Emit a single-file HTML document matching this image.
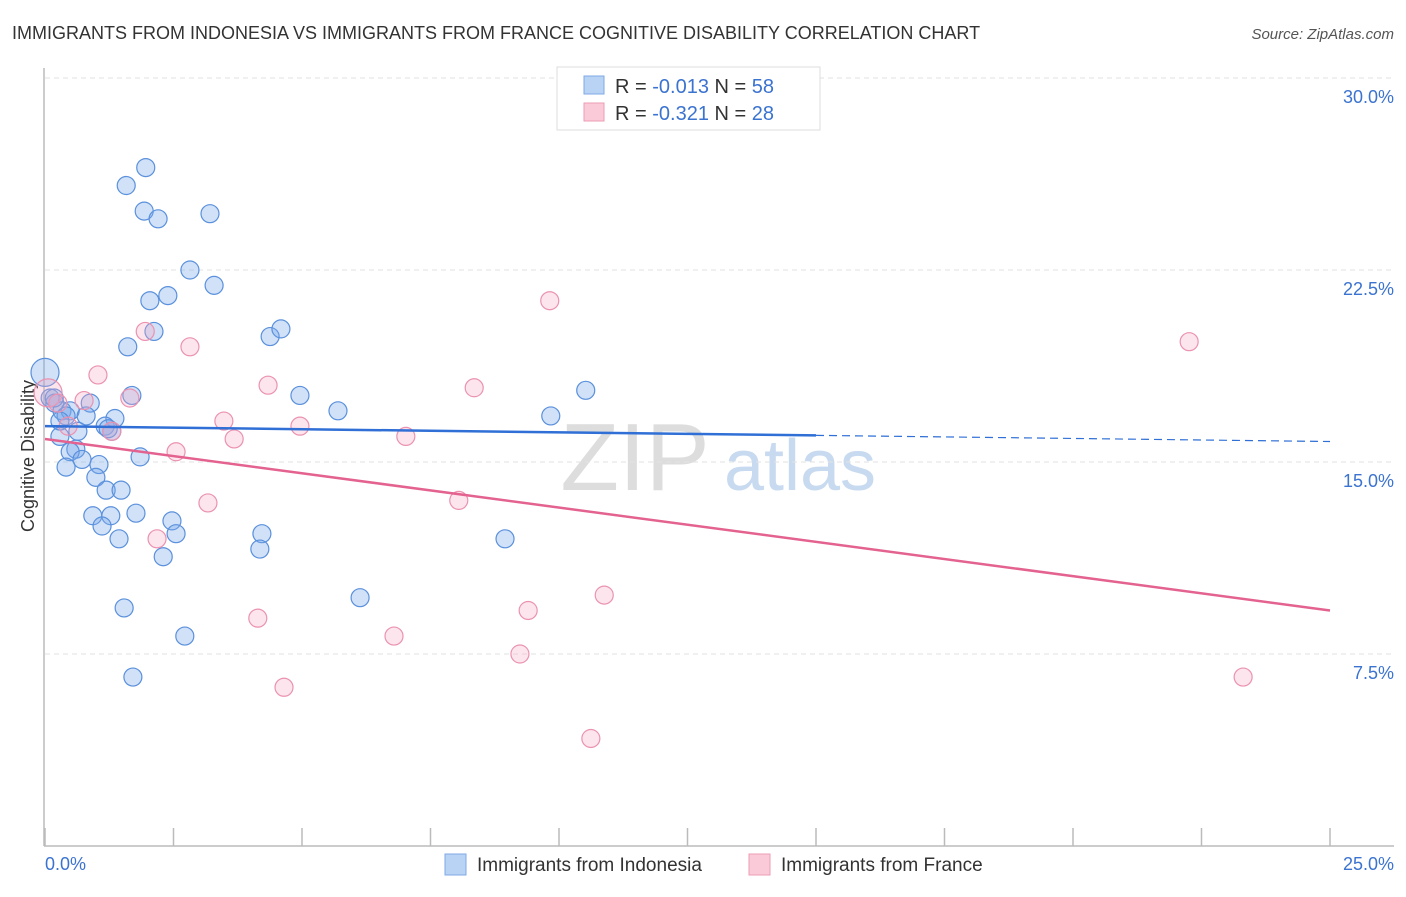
<!DOCTYPE html>
<html><head><meta charset="utf-8">
<style>
body{margin:0;background:#fff;font-family:"Liberation Sans",sans-serif;}
svg text{font-family:"Liberation Sans",sans-serif;}
</style></head>
<body>
<svg id="chart" width="1406" height="892" xmlns="http://www.w3.org/2000/svg">
<text x="12" y="39" font-size="18" fill="#333">IMMIGRANTS FROM INDONESIA VS IMMIGRANTS FROM FRANCE COGNITIVE DISABILITY CORRELATION CHART</text>
<text x="1394" y="39" font-size="15" fill="#555" font-style="italic" text-anchor="end">Source: ZipAtlas.com</text>
<text x="34" y="456" font-size="18" fill="#333" text-anchor="middle" transform="rotate(-90 34 456)">Cognitive Disability</text>
<g>
<text x="635" y="490" font-size="96" fill="#ddd" font-family="Liberation Serif" text-anchor="middle">ZIP</text>
<text x="800" y="490" font-size="72" fill="#c8daf0" text-anchor="middle">atlas</text>
</g>
<g id="grid"></g><g id="axes"></g><g id="pts"></g><g id="trend"></g>
<g>
<rect x="557" y="67" width="263" height="63" fill="#fff" stroke="#ddd"/>
<rect x="584" y="76" width="20" height="18" fill="#b9d3f5" stroke="#7fa9e4"/>
<rect x="584" y="103" width="20" height="18" fill="#fbcad8" stroke="#ee9db6"/>
<text x="615" y="93" font-size="20" fill="#333">R = <tspan fill="#3b73d0">-0.013</tspan>   N = <tspan fill="#3b73d0">58</tspan></text>
<text x="615" y="120" font-size="20" fill="#333">R = <tspan fill="#3b73d0"> -0.321</tspan>   N = <tspan fill="#3b73d0">28</tspan></text>
</g>
<g>
<rect x="445" y="854" width="21" height="21" fill="#b9d3f5" stroke="#7fa9e4"/>
<text x="477" y="871" font-size="19" fill="#333">Immigrants from Indonesia</text>
<rect x="749" y="854" width="21" height="21" fill="#fbcad8" stroke="#ee9db6"/>
<text x="781" y="871" font-size="19" fill="#333">Immigrants from France</text>
</g>
<text x="45" y="870" font-size="18" fill="#3b73d0">0.0%</text>
<text x="1394" y="870" font-size="18" fill="#3b73d0" text-anchor="end">25.0%</text>
</svg>
<script>
const yTicks=[7.5,15,22.5,30];
const yTickLabels=["7.5%","15.0%","22.5%","30.0%"];
const indoX=[1.96,1.58,1.93,2.20,3.21,2.82,3.29,2.39,2.04,2.12,4.38,4.59,1.61,1.69,4.96,5.70,9.84,10.52,0,0.10,0.19,0.33,0.49,0.88,0.80,1.36,1.17,1.30,0.64,0.29,0.60,0.49,0.72,0.41,1.05,1.85,0.99,1.19,1.48,0.93,1.28,1.77,1.11,1.44,2.47,2.55,4.22,4.18,2.30,8.95,1.54,6.13,2.72,1.71,0.41,0.29,1.23,0.18];
const indoY=[26.5,25.8,24.8,24.5,24.7,22.5,21.9,21.5,21.3,20.1,19.9,20.2,19.5,17.6,17.6,17.0,16.8,17.8,18.5,17.5,17.3,17.0,17.0,17.3,16.8,16.7,16.4,16.2,16.2,16.0,15.5,15.4,15.1,14.8,14.9,15.2,14.4,13.9,13.9,12.9,12.9,13.0,12.5,12.0,12.7,12.2,12.2,11.6,11.3,12.0,9.3,9.7,8.2,6.6,16.8,16.6,16.3,17.5];
const frX=[0.06,0.25,0.76,1.03,0.45,1.30,1.65,1.95,2.82,4.34,3.48,3.68,4.96,2.55,3.17,2.18,4.14,4.65,6.79,7.02,8.05,8.35,9.82,9.40,9.24,10.88,10.62,22.26,23.31];
const frY=[17.7,17.3,17.4,18.4,16.4,16.2,17.5,20.1,19.5,18.0,16.6,15.9,16.4,15.4,13.4,12.0,8.9,6.2,8.2,16.0,13.5,17.9,21.3,9.2,7.5,9.8,4.2,19.7,6.6];
const indoTrend=[16.4,15.8];
const frTrend=[15.9,9.2];
const X=v=>45+v*51.4, Y=v=>846-v*25.6;
const NS="http://www.w3.org/2000/svg";
function mk(tag,attrs,parent){const e=document.createElementNS(NS,tag);for(const k in attrs)e.setAttribute(k,attrs[k]);document.getElementById(parent).appendChild(e);return e;}
yTicks.forEach((t,i)=>{
 const l=mk('line',{x1:45,x2:1394,y1:Y(t),y2:Y(t),stroke:'#e2e2e2','stroke-dasharray':'5,4'},'grid');
 
 
 const tx=mk('text',{x:1394,y:Y(t)+25,'font-size':18,fill:'#3b73d0','text-anchor':'end'},'grid');
 tx.textContent=yTickLabels[i];
 
 
});
const ax=mk('line',{x1:44,x2:44,y1:68,y2:846,stroke:'#bbb','stroke-width':1.5},'axes');


const bx=mk('line',{x1:44,x2:1394,y1:846,y2:846,stroke:'#bbb','stroke-width':1.5},'axes');


for(let i=0;i<=10;i++){const t=mk('line',{x1:X(i*2.5),x2:X(i*2.5),y1:828,y2:846,stroke:'#bbb','stroke-width':1.5},'axes');
 
 }
indoX.forEach((x,i)=>{const c=mk('circle',{cx:X(x),cy:Y(indoY[i]),r:x===0?14:9,fill:'rgba(120,170,235,0.35)',stroke:'#5a90dc','stroke-width':1.2},'pts');
 
 });
frX.forEach((x,i)=>{const c=mk('circle',{cx:X(x),cy:Y(frY[i]),r:i===0?14:9,fill:'rgba(245,170,195,0.3)',stroke:'#eb92b0','stroke-width':1.2},'pts');
 
 });
const slope=(indoTrend[1]-indoTrend[0])/25;
const t1=mk('line',{x1:X(0),y1:Y(indoTrend[0]),x2:X(15),y2:Y(indoTrend[0]+slope*15),stroke:'#2f6fd6','stroke-width':2.5},'trend');


const t2=mk('line',{x1:X(15),y1:Y(indoTrend[0]+slope*15),x2:X(25),y2:Y(indoTrend[1]),stroke:'#2f6fd6','stroke-width':1.2,'stroke-dasharray':'8,5'},'trend');


const t3=mk('line',{x1:X(0),y1:Y(frTrend[0]),x2:X(25),y2:Y(frTrend[1]),stroke:'#e4628f','stroke-width':2.5},'trend');


</script>
</body></html>
